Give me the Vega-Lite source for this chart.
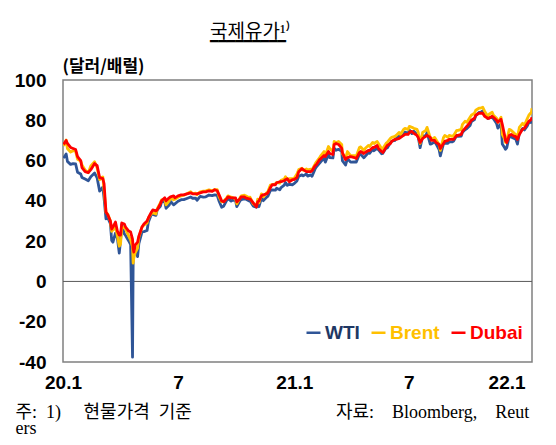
{
  "$schema": "https://vega.github.io/schema/vega-lite/v6.json",
  "width": 469,
  "height": 282,
  "autosize": {"type": "none"},
  "padding": {"left": 63, "top": 80, "right": 24, "bottom": 83},
  "background": "white",
  "title": {
    "text": "국제유가¹⁾",
    "subtitle": "━━━━━━━━━",
    "anchor": "start",
    "frame": "group",
    "dx": 147,
    "offset": 8,
    "font": "Liberation Serif, Noto Sans CJK KR",
    "fontSize": 19,
    "fontWeight": "normal",
    "color": "#000000",
    "subtitleFont": "DejaVu Sans",
    "subtitleFontSize": 14,
    "subtitleColor": "#000000",
    "subtitlePadding": -7
  },
  "layer": [
    {
      "data": {"values": [{"z": 0}]},
      "mark": {"type": "rule", "color": "#595959", "strokeWidth": 1},
      "encoding": {"y": {"datum": 0, "type": "quantitative"}}
    },
    {
      "data": {"values": [
        {"d":"2020-01-02","WTI":61.2,"Brent":67.3,"Dubai":68.0},
        {"d":"2020-01-06","WTI":63.3,"Brent":70.2,"Dubai":70.0},
        {"d":"2020-01-08","WTI":59.6,"Brent":66.0,"Dubai":68.5},
        {"d":"2020-01-13","WTI":58.1,"Brent":64.2,"Dubai":66.5},
        {"d":"2020-01-17","WTI":58.5,"Brent":64.9,"Dubai":66.0},
        {"d":"2020-01-21","WTI":58.3,"Brent":64.6,"Dubai":65.5},
        {"d":"2020-01-24","WTI":54.2,"Brent":60.7,"Dubai":62.0},
        {"d":"2020-01-29","WTI":53.3,"Brent":59.8,"Dubai":60.0},
        {"d":"2020-01-31","WTI":51.6,"Brent":57.8,"Dubai":56.5},
        {"d":"2020-02-05","WTI":50.8,"Brent":55.3,"Dubai":54.5},
        {"d":"2020-02-10","WTI":50.0,"Brent":54.0,"Dubai":54.0},
        {"d":"2020-02-14","WTI":52.0,"Brent":57.3,"Dubai":55.5},
        {"d":"2020-02-20","WTI":53.8,"Brent":59.4,"Dubai":58.5},
        {"d":"2020-02-24","WTI":51.4,"Brent":56.3,"Dubai":57.5},
        {"d":"2020-02-28","WTI":44.8,"Brent":50.5,"Dubai":51.5},
        {"d":"2020-03-04","WTI":46.8,"Brent":51.9,"Dubai":51.0},
        {"d":"2020-03-06","WTI":41.3,"Brent":45.3,"Dubai":48.5},
        {"d":"2020-03-09","WTI":31.1,"Brent":34.4,"Dubai":34.5},
        {"d":"2020-03-12","WTI":31.5,"Brent":33.3,"Dubai":33.0},
        {"d":"2020-03-16","WTI":28.7,"Brent":30.0,"Dubai":30.0},
        {"d":"2020-03-18","WTI":20.4,"Brent":24.9,"Dubai":26.0},
        {"d":"2020-03-20","WTI":19.5,"Brent":25.5,"Dubai":27.0},
        {"d":"2020-03-24","WTI":24.0,"Brent":27.2,"Dubai":29.5},
        {"d":"2020-03-27","WTI":21.5,"Brent":22.7,"Dubai":25.0},
        {"d":"2020-03-30","WTI":14.1,"Brent":17.5,"Dubai":23.0},
        {"d":"2020-04-01","WTI":20.3,"Brent":18.5,"Dubai":23.0},
        {"d":"2020-04-03","WTI":28.3,"Brent":26.3,"Dubai":29.0},
        {"d":"2020-04-07","WTI":23.6,"Brent":27.0,"Dubai":28.5},
        {"d":"2020-04-09","WTI":22.8,"Brent":26.0,"Dubai":27.0},
        {"d":"2020-04-14","WTI":20.1,"Brent":22.5,"Dubai":25.0},
        {"d":"2020-04-17","WTI":18.3,"Brent":20.5,"Dubai":24.5},
        {"d":"2020-04-20","WTI":-37.6,"Brent":17.3,"Dubai":21.0},
        {"d":"2020-04-21","WTI":10.0,"Brent":9.1,"Dubai":16.5},
        {"d":"2020-04-22","WTI":13.8,"Brent":11.5,"Dubai":14.6},
        {"d":"2020-04-24","WTI":16.9,"Brent":14.0,"Dubai":18.0},
        {"d":"2020-04-28","WTI":12.3,"Brent":16.5,"Dubai":19.5},
        {"d":"2020-04-30","WTI":18.8,"Brent":22.0,"Dubai":22.5},
        {"d":"2020-05-05","WTI":24.6,"Brent":27.0,"Dubai":27.0},
        {"d":"2020-05-08","WTI":24.7,"Brent":28.0,"Dubai":28.5},
        {"d":"2020-05-13","WTI":25.3,"Brent":29.0,"Dubai":30.0},
        {"d":"2020-05-15","WTI":29.4,"Brent":31.5,"Dubai":31.5},
        {"d":"2020-05-20","WTI":33.5,"Brent":33.8,"Dubai":34.5},
        {"d":"2020-05-22","WTI":33.3,"Brent":34.0,"Dubai":35.5},
        {"d":"2020-05-27","WTI":32.8,"Brent":33.5,"Dubai":35.0},
        {"d":"2020-05-29","WTI":35.5,"Brent":36.0,"Dubai":35.5},
        {"d":"2020-06-03","WTI":37.3,"Brent":39.0,"Dubai":38.5},
        {"d":"2020-06-05","WTI":39.6,"Brent":40.5,"Dubai":40.0},
        {"d":"2020-06-10","WTI":39.6,"Brent":40.8,"Dubai":41.5},
        {"d":"2020-06-12","WTI":36.3,"Brent":38.0,"Dubai":40.0},
        {"d":"2020-06-17","WTI":37.9,"Brent":40.0,"Dubai":41.5},
        {"d":"2020-06-19","WTI":39.8,"Brent":41.5,"Dubai":42.0},
        {"d":"2020-06-24","WTI":38.0,"Brent":40.5,"Dubai":42.5},
        {"d":"2020-06-26","WTI":38.5,"Brent":40.8,"Dubai":41.5},
        {"d":"2020-07-01","WTI":39.8,"Brent":41.8,"Dubai":42.5},
        {"d":"2020-07-06","WTI":40.6,"Brent":42.5,"Dubai":43.0},
        {"d":"2020-07-10","WTI":40.6,"Brent":42.8,"Dubai":43.0},
        {"d":"2020-07-15","WTI":41.2,"Brent":43.5,"Dubai":43.5},
        {"d":"2020-07-21","WTI":41.9,"Brent":44.5,"Dubai":44.0},
        {"d":"2020-07-24","WTI":41.3,"Brent":43.6,"Dubai":43.5},
        {"d":"2020-07-29","WTI":41.3,"Brent":43.8,"Dubai":43.5},
        {"d":"2020-07-31","WTI":40.3,"Brent":43.0,"Dubai":43.5},
        {"d":"2020-08-05","WTI":42.2,"Brent":44.5,"Dubai":44.0},
        {"d":"2020-08-10","WTI":41.9,"Brent":44.8,"Dubai":44.5},
        {"d":"2020-08-14","WTI":42.0,"Brent":45.0,"Dubai":44.5},
        {"d":"2020-08-19","WTI":42.9,"Brent":45.5,"Dubai":45.0},
        {"d":"2020-08-24","WTI":42.6,"Brent":45.0,"Dubai":44.7},
        {"d":"2020-08-28","WTI":43.0,"Brent":45.6,"Dubai":45.5},
        {"d":"2020-09-01","WTI":42.8,"Brent":45.6,"Dubai":45.0},
        {"d":"2020-09-04","WTI":39.8,"Brent":42.0,"Dubai":43.0},
        {"d":"2020-09-08","WTI":36.8,"Brent":39.5,"Dubai":40.0},
        {"d":"2020-09-11","WTI":37.3,"Brent":39.8,"Dubai":39.5},
        {"d":"2020-09-16","WTI":40.2,"Brent":41.5,"Dubai":41.0},
        {"d":"2020-09-18","WTI":41.1,"Brent":42.5,"Dubai":42.0},
        {"d":"2020-09-23","WTI":39.9,"Brent":41.8,"Dubai":41.5},
        {"d":"2020-09-25","WTI":40.3,"Brent":41.7,"Dubai":41.5},
        {"d":"2020-09-30","WTI":40.2,"Brent":41.0,"Dubai":41.5},
        {"d":"2020-10-02","WTI":37.1,"Brent":38.5,"Dubai":39.5},
        {"d":"2020-10-07","WTI":40.0,"Brent":41.5,"Dubai":41.0},
        {"d":"2020-10-09","WTI":40.6,"Brent":42.5,"Dubai":42.0},
        {"d":"2020-10-14","WTI":41.0,"Brent":42.8,"Dubai":42.0},
        {"d":"2020-10-16","WTI":40.9,"Brent":42.5,"Dubai":41.5},
        {"d":"2020-10-21","WTI":40.0,"Brent":41.7,"Dubai":41.0},
        {"d":"2020-10-23","WTI":39.9,"Brent":41.8,"Dubai":41.0},
        {"d":"2020-10-28","WTI":37.4,"Brent":38.5,"Dubai":39.0},
        {"d":"2020-11-02","WTI":36.8,"Brent":37.5,"Dubai":37.0},
        {"d":"2020-11-04","WTI":39.2,"Brent":40.8,"Dubai":39.5},
        {"d":"2020-11-06","WTI":37.1,"Brent":39.0,"Dubai":40.0},
        {"d":"2020-11-10","WTI":41.4,"Brent":43.5,"Dubai":42.5},
        {"d":"2020-11-13","WTI":40.1,"Brent":42.0,"Dubai":43.0},
        {"d":"2020-11-18","WTI":41.8,"Brent":44.0,"Dubai":43.5},
        {"d":"2020-11-20","WTI":42.2,"Brent":44.5,"Dubai":44.0},
        {"d":"2020-11-24","WTI":45.0,"Brent":47.8,"Dubai":46.5},
        {"d":"2020-11-27","WTI":45.5,"Brent":48.0,"Dubai":48.0},
        {"d":"2020-12-02","WTI":45.3,"Brent":48.5,"Dubai":48.0},
        {"d":"2020-12-04","WTI":46.3,"Brent":49.2,"Dubai":49.0},
        {"d":"2020-12-09","WTI":45.5,"Brent":48.8,"Dubai":49.5},
        {"d":"2020-12-11","WTI":46.6,"Brent":50.2,"Dubai":49.5},
        {"d":"2020-12-16","WTI":47.8,"Brent":50.8,"Dubai":50.0},
        {"d":"2020-12-18","WTI":49.1,"Brent":52.0,"Dubai":50.5},
        {"d":"2020-12-21","WTI":47.7,"Brent":50.5,"Dubai":51.0},
        {"d":"2020-12-24","WTI":48.2,"Brent":51.0,"Dubai":49.5},
        {"d":"2020-12-29","WTI":48.0,"Brent":51.0,"Dubai":50.5},
        {"d":"2020-12-31","WTI":48.4,"Brent":50.9,"Dubai":50.5},
        {"d":"2021-01-05","WTI":49.9,"Brent":53.3,"Dubai":51.5},
        {"d":"2021-01-08","WTI":52.2,"Brent":55.5,"Dubai":54.5},
        {"d":"2021-01-13","WTI":52.9,"Brent":56.2,"Dubai":56.0},
        {"d":"2021-01-15","WTI":52.4,"Brent":55.2,"Dubai":55.5},
        {"d":"2021-01-20","WTI":53.3,"Brent":55.8,"Dubai":54.5},
        {"d":"2021-01-22","WTI":52.3,"Brent":55.4,"Dubai":54.5},
        {"d":"2021-01-27","WTI":52.9,"Brent":55.7,"Dubai":54.5},
        {"d":"2021-01-29","WTI":52.2,"Brent":55.5,"Dubai":55.0},
        {"d":"2021-02-03","WTI":56.0,"Brent":58.4,"Dubai":57.5},
        {"d":"2021-02-05","WTI":56.9,"Brent":59.4,"Dubai":58.0},
        {"d":"2021-02-10","WTI":58.7,"Brent":61.5,"Dubai":60.5},
        {"d":"2021-02-12","WTI":59.5,"Brent":62.5,"Dubai":61.0},
        {"d":"2021-02-17","WTI":61.1,"Brent":64.5,"Dubai":62.5},
        {"d":"2021-02-19","WTI":59.2,"Brent":62.5,"Dubai":62.0},
        {"d":"2021-02-24","WTI":63.2,"Brent":67.0,"Dubai":64.5},
        {"d":"2021-02-26","WTI":61.5,"Brent":66.0,"Dubai":63.5},
        {"d":"2021-03-03","WTI":61.3,"Brent":64.5,"Dubai":63.0},
        {"d":"2021-03-05","WTI":66.1,"Brent":69.5,"Dubai":68.0},
        {"d":"2021-03-08","WTI":65.1,"Brent":69.0,"Dubai":68.5},
        {"d":"2021-03-12","WTI":65.6,"Brent":69.5,"Dubai":68.0},
        {"d":"2021-03-17","WTI":64.6,"Brent":68.0,"Dubai":66.0},
        {"d":"2021-03-18","WTI":60.0,"Brent":63.5,"Dubai":64.0},
        {"d":"2021-03-23","WTI":57.8,"Brent":61.0,"Dubai":60.5},
        {"d":"2021-03-26","WTI":61.0,"Brent":64.5,"Dubai":61.5},
        {"d":"2021-03-31","WTI":59.2,"Brent":62.5,"Dubai":62.0},
        {"d":"2021-04-06","WTI":59.3,"Brent":62.5,"Dubai":61.5},
        {"d":"2021-04-09","WTI":59.3,"Brent":62.2,"Dubai":61.0},
        {"d":"2021-04-14","WTI":63.2,"Brent":66.5,"Dubai":64.0},
        {"d":"2021-04-16","WTI":63.1,"Brent":66.8,"Dubai":64.5},
        {"d":"2021-04-21","WTI":61.4,"Brent":65.0,"Dubai":63.5},
        {"d":"2021-04-23","WTI":62.1,"Brent":66.0,"Dubai":64.0},
        {"d":"2021-04-28","WTI":63.9,"Brent":67.5,"Dubai":65.0},
        {"d":"2021-04-30","WTI":63.6,"Brent":67.0,"Dubai":65.0},
        {"d":"2021-05-05","WTI":65.6,"Brent":69.0,"Dubai":66.5},
        {"d":"2021-05-07","WTI":64.9,"Brent":68.5,"Dubai":66.5},
        {"d":"2021-05-12","WTI":66.1,"Brent":69.5,"Dubai":67.5},
        {"d":"2021-05-14","WTI":65.4,"Brent":68.5,"Dubai":66.0},
        {"d":"2021-05-19","WTI":63.4,"Brent":66.0,"Dubai":64.5},
        {"d":"2021-05-21","WTI":63.6,"Brent":66.0,"Dubai":64.0},
        {"d":"2021-05-26","WTI":66.2,"Brent":68.5,"Dubai":66.5},
        {"d":"2021-05-28","WTI":66.3,"Brent":69.0,"Dubai":67.5},
        {"d":"2021-06-02","WTI":68.8,"Brent":71.0,"Dubai":68.5},
        {"d":"2021-06-04","WTI":69.6,"Brent":71.5,"Dubai":69.5},
        {"d":"2021-06-09","WTI":70.0,"Brent":72.0,"Dubai":70.5},
        {"d":"2021-06-11","WTI":71.0,"Brent":72.5,"Dubai":70.5},
        {"d":"2021-06-16","WTI":72.2,"Brent":74.0,"Dubai":71.0},
        {"d":"2021-06-18","WTI":71.6,"Brent":73.0,"Dubai":71.5},
        {"d":"2021-06-23","WTI":73.1,"Brent":75.5,"Dubai":72.5},
        {"d":"2021-06-25","WTI":74.1,"Brent":76.0,"Dubai":73.0},
        {"d":"2021-06-30","WTI":73.5,"Brent":75.5,"Dubai":73.0},
        {"d":"2021-07-02","WTI":75.2,"Brent":77.0,"Dubai":74.0},
        {"d":"2021-07-06","WTI":73.4,"Brent":76.5,"Dubai":74.5},
        {"d":"2021-07-09","WTI":74.6,"Brent":76.0,"Dubai":73.5},
        {"d":"2021-07-14","WTI":73.1,"Brent":75.5,"Dubai":72.5},
        {"d":"2021-07-16","WTI":71.8,"Brent":74.0,"Dubai":71.5},
        {"d":"2021-07-19","WTI":66.4,"Brent":68.5,"Dubai":69.0},
        {"d":"2021-07-23","WTI":72.1,"Brent":74.0,"Dubai":71.0},
        {"d":"2021-07-28","WTI":72.4,"Brent":75.0,"Dubai":72.0},
        {"d":"2021-07-30","WTI":73.9,"Brent":76.5,"Dubai":72.5},
        {"d":"2021-08-04","WTI":68.2,"Brent":71.5,"Dubai":71.5},
        {"d":"2021-08-06","WTI":68.3,"Brent":70.5,"Dubai":70.0},
        {"d":"2021-08-11","WTI":69.3,"Brent":71.5,"Dubai":70.0},
        {"d":"2021-08-13","WTI":68.4,"Brent":70.5,"Dubai":69.0},
        {"d":"2021-08-18","WTI":65.5,"Brent":68.0,"Dubai":68.0},
        {"d":"2021-08-20","WTI":62.3,"Brent":65.0,"Dubai":66.0},
        {"d":"2021-08-25","WTI":68.4,"Brent":71.5,"Dubai":68.5},
        {"d":"2021-08-27","WTI":68.7,"Brent":72.5,"Dubai":69.5},
        {"d":"2021-09-01","WTI":68.6,"Brent":71.5,"Dubai":70.0},
        {"d":"2021-09-03","WTI":69.3,"Brent":72.5,"Dubai":70.5},
        {"d":"2021-09-08","WTI":69.3,"Brent":72.0,"Dubai":70.5},
        {"d":"2021-09-10","WTI":69.7,"Brent":72.5,"Dubai":70.5},
        {"d":"2021-09-15","WTI":72.6,"Brent":75.0,"Dubai":72.5},
        {"d":"2021-09-17","WTI":72.0,"Brent":75.0,"Dubai":72.5},
        {"d":"2021-09-22","WTI":72.2,"Brent":75.5,"Dubai":73.0},
        {"d":"2021-09-24","WTI":74.0,"Brent":78.0,"Dubai":74.5},
        {"d":"2021-09-28","WTI":75.3,"Brent":79.5,"Dubai":76.0},
        {"d":"2021-10-01","WTI":75.9,"Brent":79.0,"Dubai":77.0},
        {"d":"2021-10-06","WTI":77.4,"Brent":81.5,"Dubai":79.0},
        {"d":"2021-10-08","WTI":79.3,"Brent":82.5,"Dubai":80.0},
        {"d":"2021-10-13","WTI":80.4,"Brent":83.5,"Dubai":81.0},
        {"d":"2021-10-15","WTI":82.3,"Brent":85.0,"Dubai":82.5},
        {"d":"2021-10-20","WTI":83.9,"Brent":86.0,"Dubai":83.5},
        {"d":"2021-10-22","WTI":83.8,"Brent":86.0,"Dubai":83.5},
        {"d":"2021-10-26","WTI":84.6,"Brent":86.5,"Dubai":83.5},
        {"d":"2021-10-29","WTI":83.6,"Brent":84.5,"Dubai":82.0},
        {"d":"2021-11-03","WTI":80.9,"Brent":82.0,"Dubai":81.0},
        {"d":"2021-11-05","WTI":81.3,"Brent":83.0,"Dubai":81.0},
        {"d":"2021-11-10","WTI":81.3,"Brent":84.0,"Dubai":82.0},
        {"d":"2021-11-12","WTI":80.8,"Brent":82.5,"Dubai":81.5},
        {"d":"2021-11-17","WTI":78.4,"Brent":81.0,"Dubai":80.0},
        {"d":"2021-11-19","WTI":76.1,"Brent":79.0,"Dubai":79.0},
        {"d":"2021-11-24","WTI":78.4,"Brent":81.5,"Dubai":80.5},
        {"d":"2021-11-26","WTI":68.2,"Brent":73.0,"Dubai":78.0},
        {"d":"2021-11-30","WTI":66.2,"Brent":70.5,"Dubai":72.0},
        {"d":"2021-12-01","WTI":65.6,"Brent":69.0,"Dubai":70.0},
        {"d":"2021-12-03","WTI":66.3,"Brent":70.0,"Dubai":69.0},
        {"d":"2021-12-07","WTI":72.1,"Brent":75.5,"Dubai":72.5},
        {"d":"2021-12-10","WTI":71.7,"Brent":75.0,"Dubai":73.0},
        {"d":"2021-12-15","WTI":70.9,"Brent":73.5,"Dubai":72.0},
        {"d":"2021-12-17","WTI":70.9,"Brent":73.0,"Dubai":72.0},
        {"d":"2021-12-20","WTI":68.2,"Brent":71.5,"Dubai":70.5},
        {"d":"2021-12-23","WTI":73.8,"Brent":76.5,"Dubai":73.0},
        {"d":"2021-12-28","WTI":75.9,"Brent":78.5,"Dubai":75.5},
        {"d":"2021-12-31","WTI":75.2,"Brent":77.5,"Dubai":76.0},
        {"d":"2022-01-04","WTI":76.9,"Brent":80.5,"Dubai":78.0},
        {"d":"2022-01-07","WTI":78.9,"Brent":82.5,"Dubai":79.5},
        {"d":"2022-01-11","WTI":79.0,"Brent":84.0,"Dubai":80.5},
        {"d":"2022-01-12","WTI":79.8,"Brent":86.0,"Dubai":81.5}
      ]},
      "transform": [{"fold": ["WTI", "Brent", "Dubai"], "as": ["series", "price"]}],
      "mark": {"type": "line", "strokeWidth": 2.8, "strokeJoin": "round", "clip": true},
      "encoding": {
        "x": {
          "field": "d",
          "type": "temporal",
          "scale": {"type": "utc", "domain": [{"year": 2020, "month": 1, "date": 1, "utc": true}, {"year": 2022, "month": 1, "date": 12, "utc": true}]},
          "axis": {
            "values": [
              {"year": 2020, "month": 1, "date": 1, "utc": true},
              {"year": 2020, "month": 7, "date": 1, "utc": true},
              {"year": 2021, "month": 1, "date": 1, "utc": true},
              {"year": 2021, "month": 7, "date": 1, "utc": true},
              {"year": 2022, "month": 1, "date": 1, "utc": true}
            ],
            "labelExpr": "utcmonth(datum.value) == 0 ? utcFormat(datum.value, '%y') + '.1' : '7'",
            "labelAlign": {"condition": {"test": "utcyear(datum.value) == 2022", "value": "right"}, "value": "center"},
            "labelFlush": false,
            "labelBound": false,
            "labelOverlap": false,
            "labelPadding": 11,
            "title": ["주:\u00a0\u00a01)\u00a0\u00a0\u00a0\u00a0\u00a0현물가격\u00a0\u00a0기준\u00a0\u00a0\u00a0\u00a0\u00a0\u00a0\u00a0\u00a0\u00a0\u00a0\u00a0\u00a0\u00a0\u00a0\u00a0\u00a0\u00a0\u00a0\u00a0\u00a0\u00a0\u00a0\u00a0\u00a0\u00a0\u00a0\u00a0\u00a0\u00a0\u00a0\u00a0\u00a0자료:\u00a0\u00a0\u00a0\u00a0Bloomberg,\u00a0\u00a0\u00a0\u00a0Reut", "ers"],
            "titleAnchor": "start",
            "titleAlign": "left",
            "titleBaseline": "alphabetic",
            "titleX": -48,
            "titleY": 55,
            "titleFont": "Liberation Serif, Noto Sans CJK KR",
            "titleFontSize": 18,
            "titleFontWeight": "normal",
            "titleLineHeight": 16,
            "titleColor": "#000000"
          }
        },
        "y": {
          "field": "price",
          "type": "quantitative",
          "scale": {"domain": [-40, 100], "nice": false, "zero": false},
          "axis": {
            "values": [-40, -20, 0, 20, 40, 60, 80, 100],
            "labelExpr": "datum.value < 0 ? '-' + abs(datum.value) : '' + datum.value",
            "labelPadding": 17,
            "title": "(달러/배럴)",
            "titleAngle": 0,
            "titleAlign": "left",
            "titleBaseline": "alphabetic",
            "titleX": -1,
            "titleY": -9,
            "titleFont": "Noto Sans CJK KR",
            "titleFontSize": 17,
            "titleFontWeight": "bold",
            "titleColor": "#000000"
          }
        },
        "color": {
          "field": "series",
          "type": "nominal",
          "scale": {"domain": ["WTI", "Brent", "Dubai"], "range": ["#2f5597", "#ffc000", "#ff0000"]},
          "legend": {
            "orient": "none",
            "legendX": 241,
            "legendY": 243,
            "direction": "horizontal",
            "title": null,
            "symbolType": "stroke",
            "symbolSize": 196,
            "symbolStrokeWidth": 2.5,
            "labelFont": "Liberation Sans",
            "labelFontSize": 19,
            "labelFontWeight": "bold",
            "labelOffset": 2,
            "columnPadding": 6,
            "encode": {
              "labels": {"update": {"fill": {"signal": "datum.label === 'WTI' ? '#1f3864' : datum.label === 'Brent' ? '#ffc000' : '#ff0000'"}}}
            }
          }
        }
      }
    }
  ],
  "config": {
    "font": "Liberation Sans",
    "view": {"stroke": "#808080", "strokeWidth": 1.5},
    "axis": {
      "grid": false,
      "ticks": false,
      "domain": false,
      "labelFont": "Liberation Sans",
      "labelFontSize": 19,
      "labelFontWeight": "bold",
      "labelColor": "#000000"
    }
  }
}
